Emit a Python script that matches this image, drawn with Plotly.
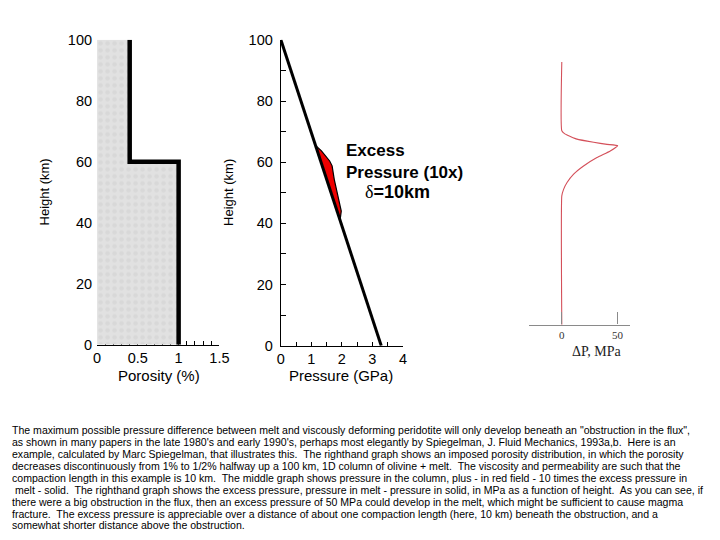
import plotly.graph_objects as go
import numpy as np

# ---------------- data ----------------
# Left panel: imposed porosity (%) vs height (km)
porosity_heights = [100, 60, 60, 0]
porosity_values = [0.4, 0.4, 1.0, 1.0]

# Middle panel: solid pressure (GPa) vs height (km)
pressure_heights = [100, 0]
pressure_values = [0.0, 3.29]

# Middle panel: melt pressure (solid + 10x excess), red field
excess_heights = [65.5, 63.7, 60.4, 58.8, 54.4, 49.0, 44.0, 41.0]
melt_pressure = [1.135, 1.33, 1.60, 1.68, 1.75, 1.88, 1.98, 1.94]

# Right panel: excess pressure (MPa) vs height (km)
dp_heights = [100, 73.8, 72.5, 70.6, 69.4, 68.6, 68.1, 66.1, 63.6, 60.4, 57.3, 54.1, 51.5, 49.0, 0]
dp_values = [0, 0, 3.1, 13.6, 28.5, 40.5, 50.0, 43.4, 31.5, 19.5, 10.6, 4.7, 1.6, 0, 0]

height_ticks = [0, 20, 40, 60, 80, 100]
porosity_ticks = [0, 0.5, 1, 1.5]
porosity_tick_labels = ["0", "0.5", "1", "1.5"]
pressure_ticks = [0, 1, 2, 3, 4]
dp_ticks = [0, 50]

caption_lines = [
    "The maximum possible pressure difference between melt and viscously deforming peridotite will only develop beneath an \"obstruction in the flux\",",
    "as shown in many papers in the late 1980's and early 1990's, perhaps most elegantly by Spiegelman, J. Fluid Mechanics, 1993a,b.  Here is an",
    "example, calculated by Marc Spiegelman, that illustrates this.  The righthand graph shows an imposed porosity distribution, in which the porosity",
    "decreases discontinuously from 1% to 1/2% halfway up a 100 km, 1D column of olivine + melt.  The viscosity and permeability are such that the",
    "compaction length in this example is 10 km.  The middle graph shows pressure in the column, plus - in red field - 10 times the excess pressure in",
    " melt - solid.  The righthand graph shows the excess pressure, pressure in melt - pressure in solid, in MPa as a function of height.  As you can see, if",
    "there were a big obstruction in the flux, then an excess pressure of 50 MPa could develop in the melt, which might be sufficient to cause magma",
    "fracture.  The excess pressure is appreciable over a distance of about one compaction length (here, 10 km) beneath the obstruction, and a",
    "somewhat shorter distance above the obstruction.",
]

W, H = 720, 540
SANS = "Liberation Sans, Arial, sans-serif"
SERIF = "Liberation Serif, Times New Roman, serif"

# mapping from target picture pixels to paper fractions (page is shown slightly offset/scaled)
SX, AX = 0.9833, 9.7
SY, AY = 0.9675, 17.25

def px(x):
    return (x - AX) / SX / W

def py(y):
    return 1 - (y - AY) / SY / H

fig = go.Figure()

# ---- Panel 1: porosity ----
fig.add_trace(go.Scatter(
    x=porosity_values, y=porosity_heights, mode="lines",
    line=dict(color="black", width=4.5), fill="tozerox",
    fillcolor="#e0e0e0",
    fillpattern=dict(shape=".", bgcolor="#e1e1e1", fgcolor="#cfcfcf", size=7, solidity=0.35),
    xaxis="x", yaxis="y", showlegend=False, hoverinfo="skip", cliponaxis=False))

# ---- Panel 2: pressure ----
sol_at_ex = np.interp(excess_heights, pressure_heights[::-1], pressure_values[::-1])
poly_x = list(melt_pressure) + list(sol_at_ex[::-1])
poly_y = list(excess_heights) + list(excess_heights[::-1])
fig.add_trace(go.Scatter(
    x=poly_x, y=poly_y, mode="lines", fill="toself", fillcolor="#ee0000",
    line=dict(color="black", width=1.2), xaxis="x2", yaxis="y2",
    showlegend=False, hoverinfo="skip"))
fig.add_trace(go.Scatter(
    x=pressure_values, y=pressure_heights, mode="lines",
    line=dict(color="black", width=3), xaxis="x2", yaxis="y2",
    showlegend=False, hoverinfo="skip", cliponaxis=False))

# ---- Panel 3: excess pressure ----
fig.add_trace(go.Scatter(
    x=dp_values, y=dp_heights, mode="lines", line=dict(color="#d4505a", width=1.1),
    line_shape="spline", line_smoothing=0.4,
    xaxis="x3", yaxis="y3", showlegend=False, hoverinfo="skip", cliponaxis=False))

tickfont = dict(family=SANS, size=14.5, color="black")

fig.update_layout(
    width=W, height=H, margin=dict(l=0, r=0, t=0, b=0),
    paper_bgcolor="white", plot_bgcolor="rgba(0,0,0,0)",
    xaxis=dict(domain=[px(95), px(217.7)], range=[0, 1.5], tickvals=porosity_ticks,
               ticktext=porosity_tick_labels, showgrid=False, zeroline=False,
               showline=True, linecolor="black", linewidth=1.3, ticks="inside",
               ticklen=4, tickcolor="black", minor=dict(dtick=0.1, ticks="inside", ticklen=4, tickcolor="black"),
               tickfont=tickfont, layer="below traces", anchor="y", ticklabelstandoff=0),
    yaxis=dict(domain=[py(345), py(41)], range=[0, 100], tickvals=height_ticks,
               showgrid=False, zeroline=False, showline=False, ticks="",
               tickfont=tickfont, anchor="x", ticklabelstandoff=4),
    xaxis2=dict(domain=[px(279.3), px(401.7)], range=[0, 4], tickvals=pressure_ticks,
                showgrid=False, zeroline=False, showline=True, linecolor="black",
                linewidth=1.3, ticks="inside", ticklen=4, tickcolor="black",
                minor=dict(dtick=0.5, ticks="inside", ticklen=4, tickcolor="black"),
                tickfont=tickfont, anchor="y2", ticklabelstandoff=0),
    yaxis2=dict(domain=[py(346), py(41)], range=[0, 100], tickvals=height_ticks,
                showgrid=False, zeroline=False, showline=True, linecolor="black",
                linewidth=1.3, ticks="inside", ticklen=5, tickcolor="black",
                minor=dict(dtick=10, ticks="inside", ticklen=5, tickcolor="black"),
                tickfont=tickfont, anchor="x2", ticklabelstandoff=4),
    xaxis3=dict(domain=[px(528), px(629)], range=[-29.5, 60.7], tickvals=dp_ticks,
                showgrid=False, zeroline=False, showline=True, linecolor="#8a8a8a",
                linewidth=1.4, ticks="inside", ticklen=12, tickcolor="#8a8a8a",
                tickfont=dict(family=SERIF, size=11, color="#333333"), anchor="y3",
                ticklabelstandoff=0),
    yaxis3=dict(domain=[py(325), py(63)], range=[0, 100], visible=False, anchor="x3"),
)

ann = []
def add_text(text, x, y, size=14, family=SANS, angle=0, xanchor="center", yanchor="middle", color="black", align="center"):
    ann.append(dict(text=text, x=px(x), y=py(y), xref="paper", yref="paper",
                    showarrow=False, textangle=angle, xanchor=xanchor, yanchor=yanchor,
                    borderpad=0, borderwidth=0, align=align,
                    font=dict(family=family, size=size, color=color)))

add_text("Height (km)", 42, 193, size=13, angle=-90)
add_text("Height (km)", 227, 193, size=13, angle=-90)
add_text("Porosity (%)", 157, 376, size=15)
add_text("Pressure (GPa)", 340, 376, size=15)
add_text("<b>Excess<br>Pressure (10x)</b>", 345, 162, size=17, xanchor="left", align="left")
add_text("<span style='font-family:Liberation Serif'>δ</span><b>=10km</b>", 364, 193, size=18, xanchor="left")
add_text("ΔP, MPa", 596, 352, size=14, family=SERIF, color="#222222")

for i, line in enumerate(caption_lines):
    add_text(line.replace("  ", "&nbsp; "), AX + 0.5, 430 + i * 11.9, size=10.55, xanchor="left", align="left")

fig.update_layout(annotations=ann)
fig.write_html("out.html")
